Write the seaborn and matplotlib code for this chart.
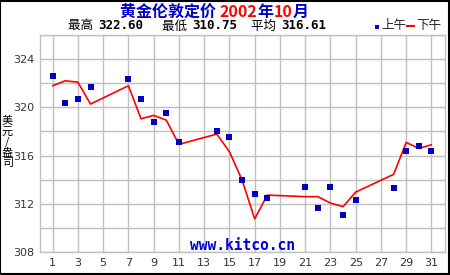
import matplotlib
matplotlib.use("Agg")
import matplotlib.pyplot as plt
import seaborn as sns
import pandas as pd
from matplotlib.patches import Rectangle

am_days = [1, 2, 3, 4, 7, 8, 9, 10, 11, 14, 15, 16, 17, 18, 21, 22, 23, 24, 25, 28, 29, 30, 31]
am_vals = [322.60, 320.32, 320.66, 321.65, 322.31, 320.66, 318.75, 319.50, 317.09, 318.00, 317.50,
           313.94, 312.78, 312.48, 313.36, 311.62, 313.36, 311.04, 312.28, 313.28, 316.34, 316.79, 316.34]
pm_days = [1, 2, 3, 4, 7, 8, 9, 10, 11, 14, 15, 16, 17, 18, 21, 22, 23, 24, 25, 28, 29, 30, 31]
pm_vals = [321.79, 322.20, 322.09, 320.27, 321.79, 319.05, 319.33, 318.94, 316.93, 317.78, 316.32,
           313.97, 310.75, 312.72, 312.59, 312.59, 312.06, 311.76, 312.97, 314.44, 317.09, 316.59, 316.90]
x_ticks = list(range(1, 32, 2))
y_ticks = [308, 312, 316, 320, 324]
title_parts = [("黄金伦敦定价 ", "#0000CC"), ("2002", "#FF0000"), ("年", "#0000CC"),
               ("10", "#FF0000"), ("月", "#0000CC")]
stats = [("最高", "322.60"), ("最低", "310.75"), ("平均", "316.61")]
legend_labels = ["上午", "下午"]

sns.set_style("white")
plt.rcParams["font.family"] = ["Noto Sans CJK SC", "DejaVu Sans"]

am = pd.DataFrame({"day": am_days, "price": am_vals})
pm = pd.DataFrame({"day": pm_days, "price": pm_vals})

fig = plt.figure(figsize=(4.5, 2.75), dpi=100)
fig.patch.set_facecolor("white")
ax = fig.add_axes([40 / 450, 23 / 275, 405 / 450, 217 / 275])

sns.lineplot(data=pm, x="day", y="price", ax=ax, color="#FF0000", linewidth=1.2, zorder=3)
sns.scatterplot(data=am, x="day", y="price", ax=ax, color="#0000C0", marker="s", s=22,
                linewidth=0, zorder=4)

ax.set_xlim(0, 32.07)
ax.set_ylim(308, 326)
ax.set_xticks(x_ticks)
ax.set_yticks(range(308, 327, 2))
ax.set_yticklabels([str(v) if v in y_ticks else "" for v in range(308, 327, 2)])
ax.grid(True, color="#C0C0C0", linewidth=1.0)
ax.set_axisbelow(True)
for s in ax.spines.values():
    s.set_color("#C0C0C0")
    s.set_linewidth(1.0)
ax.tick_params(axis="y", length=0, labelsize=8, colors="#333333", pad=4)
ax.tick_params(axis="x", length=0, labelsize=8, colors="#333333", pad=4)
for lab in ax.get_xticklabels() + ax.get_yticklabels():
    lab.set_family("DejaVu Sans")
ax.set_xlabel("")
ax.set_ylabel("")

ax.text(16.0, 308.55, "www.kitco.cn", color="#0000E0", fontsize=10.5, family="DejaVu Sans Mono",
        fontweight="bold", ha="center", va="center")

fig.text(7.5 / 450, 1 - 142 / 275, "美\n元\n/\n盎\n司", fontsize=8, ha="center", va="center",
         linespacing=1.05, color="#000000")

# title pieces
fig.canvas.draw()
renderer = fig.canvas.get_renderer()

def draw_seq(parts, x0, y, **kw):
    x = x0
    for txt, col, extra in parts:
        opts = dict(kw)
        opts.update(extra)
        t = fig.text(x, y, txt, color=col, ha="left", va="center", **opts)
        bb = t.get_window_extent(renderer)
        x += bb.width / fig.bbox.width
    return x

draw_seq([(p, c, {}) for p, c in title_parts], 120 / 450, 1 - 12 / 275, fontsize=11.5, fontweight="bold")

xs = [68, 162, 251]
for (lab, val), xp in zip(stats, xs):
    draw_seq([(lab + "  ", "#000000", {}),
              (val, "#000000", {"family": "DejaVu Sans Mono", "fontweight": "bold"})],
             xp / 450, 1 - 26 / 275, fontsize=9)

fig.patches.append(Rectangle((375 / 450, 1 - 28.5 / 275), 4 / 450, 4 / 275, transform=fig.transFigure,
                             facecolor="#0000FF", edgecolor="none"))
fig.text(381 / 450, 1 - 26 / 275, legend_labels[0], fontsize=9, va="center", ha="left")
fig.patches.append(Rectangle((406 / 450, 1 - 27 / 275), 9 / 450, 2.5 / 275, transform=fig.transFigure,
                             facecolor="#FF0000", edgecolor="none"))
fig.text(416 / 450, 1 - 26 / 275, legend_labels[1], fontsize=9, va="center", ha="left")

fig.patches.append(Rectangle((0.001, 0.003), 0.997, 0.995, transform=fig.transFigure,
                             facecolor="none", edgecolor="#000000", linewidth=1.5))

fig.savefig("out.png", dpi=100)
